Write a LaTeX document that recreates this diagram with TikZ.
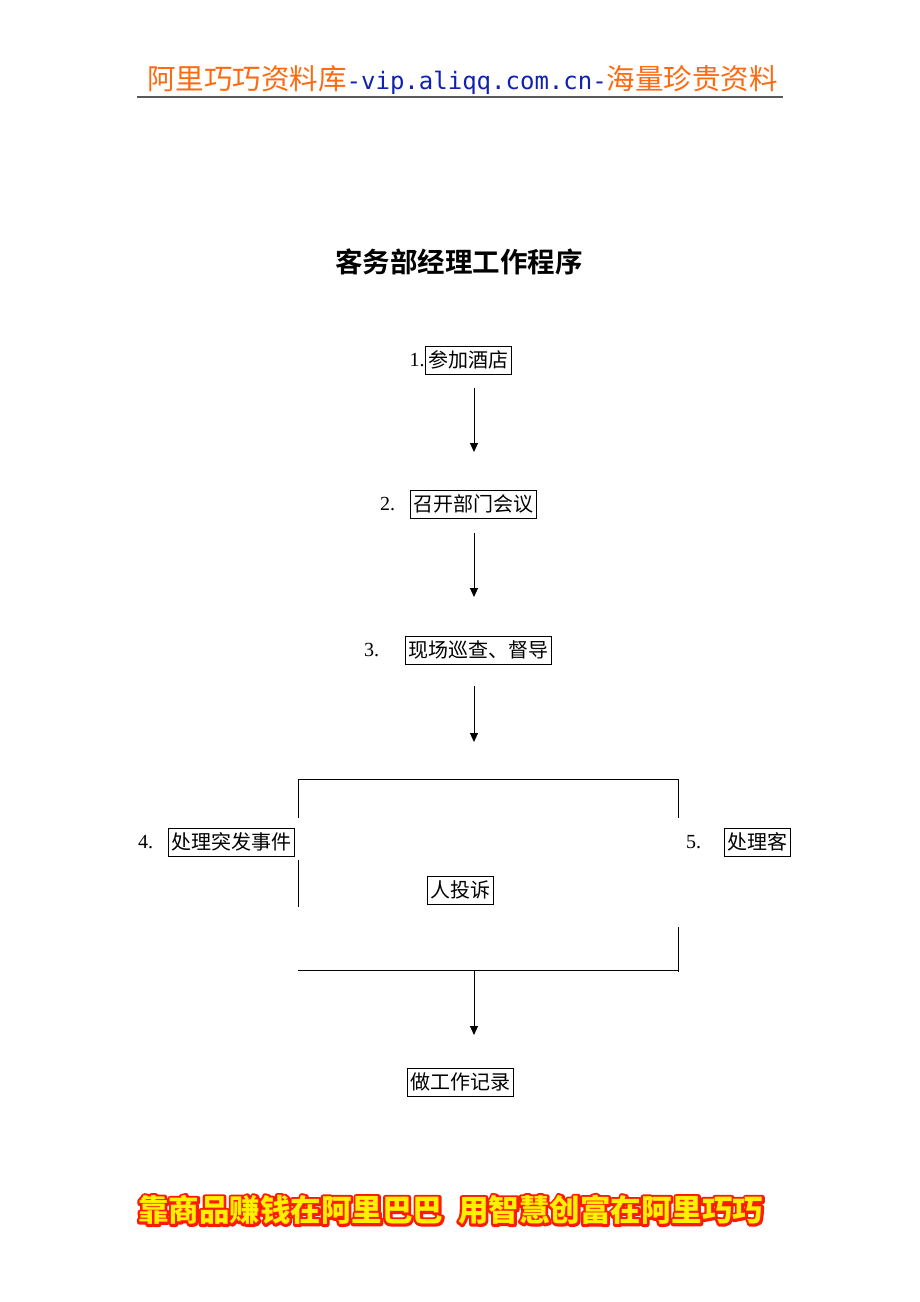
\documentclass[tikz,border=0pt]{standalone}
\usepackage{fontspec}
\setmainfont{Liberation Serif}
\newfontfamily\cjk{Noto Sans CJK SC}
\newfontfamily\cjkb{Noto Sans CJK SC}[BoldFont={* Bold}]
\newfontfamily\monof{DejaVu Sans Mono}
\usetikzlibrary{arrows.meta}
\definecolor{hdrorange}{HTML}{FF6A10}
\definecolor{hdrblue}{HTML}{1020B0}
\definecolor{ftred}{HTML}{FF1A00}
\definecolor{ftyellow}{HTML}{FFF000}
\newcommand{\ftxt}{靠商品赚钱在阿里巴巴\hspace{15pt}用智慧创富在阿里巧巧}
\tikzset{
  stepbox/.style={draw, line width=0.6pt, inner xsep=3pt, inner ysep=0pt, minimum height=28pt, font=\cjk\fontsize{20}{20}\selectfont},
  numlabel/.style={inner sep=0pt, font=\fontsize{20}{20}\selectfont},
  flowarrow/.style={line width=1pt, -{Triangle[length=9pt,width=8pt]}},
  frameline/.style={line width=0.8pt},
  ftext/.style={inner sep=0pt, font=\cjk\bfseries\fontsize{30.5}{30.5}\selectfont}
}
\begin{document}
\begin{tikzpicture}[x=1pt,y=-1pt]
\useasboundingbox (0,0) rectangle (920,1302);
% header
\node[inner sep=0pt, anchor=west, font=\fontsize{28.5}{28.5}\selectfont] (hdr) at (147,80)
  {\textcolor{hdrorange}{\cjk 阿里巧巧资料库}\textcolor{hdrblue}{\monof\fontsize{24}{28}\selectfont -vip.aliqq.com.cn-}\textcolor{hdrorange}{\cjk 海量珍贵资料}};
\coordinate (hl1) at (137,97);
\coordinate (hl2) at (783,97);
\draw[line width=1.5pt, color=black!65] (hl1) -- (hl2);
% title
\node[inner sep=0pt, font=\cjkb\bfseries\fontsize{27.5}{27.5}\selectfont] (title) at (459,262) {客务部经理工作程序};
% boxes
\node[stepbox] (b1) at (468,360) {参加酒店};
\node[numlabel, anchor=east] (n1) at (b1.west) {1.};
\node[stepbox] (b2) at (473,504) {召开部门会议};
\node[numlabel, anchor=west] (n2) at (380,504) {2.};
\node[stepbox] (b3) at (478.5,650) {现场巡查、督导};
\node[numlabel, anchor=west] (n3) at (364,650) {3.};
\node[stepbox] (b4) at (231.5,842) {处理突发事件};
\node[numlabel, anchor=west] (n4) at (138,842) {4.};
\node[stepbox] (b5) at (757.5,842) {处理客};
\node[numlabel, anchor=west] (n5) at (686,842) {5.};
\node[stepbox] (b6) at (460,890) {人投诉};
\node[stepbox] (b7) at (460,1082) {做工作记录};
% arrows
\coordinate (a1s) at (474,388); \coordinate (a1e) at (474,452);
\coordinate (a2s) at (474,533); \coordinate (a2e) at (474,597);
\coordinate (a3s) at (474,686); \coordinate (a3e) at (474,742);
\coordinate (a4s) at (474,970); \coordinate (a4e) at (474,1035);
\draw[flowarrow] (a1s) -- (a1e);
\draw[flowarrow] (a2s) -- (a2e);
\draw[flowarrow] (a3s) -- (a3e);
\draw[flowarrow] (a4s) -- (a4e);
% frame
\coordinate (tl) at (298,779); \coordinate (tr) at (678,779);
\coordinate (l1) at (298,818); \coordinate (r1) at (678,818);
\coordinate (l2) at (298,860); \coordinate (l3) at (298,907);
\coordinate (r2) at (678,927); \coordinate (br) at (678,972);
\coordinate (bl) at (298,970); \coordinate (bm) at (678,970);
\draw[frameline] (l1) -- (tl) -- (tr) -- (r1);
\draw[frameline] (l2) -- (l3);
\draw[frameline] (r2) -- (br);
\draw[frameline] (bl) -- (bm);
% footer: red stroked outline, then yellow fill on top
\node[ftext, anchor=west, text=ftred] (fto) at (138,1210)
  {\special{pdf:literal q 5 w 1 j 1 Tr}\ftxt\special{pdf:literal Q}};
\node[ftext, anchor=west, text=ftyellow] (ftr) at (138,1210) {\ftxt};
\end{tikzpicture}
\end{document}
